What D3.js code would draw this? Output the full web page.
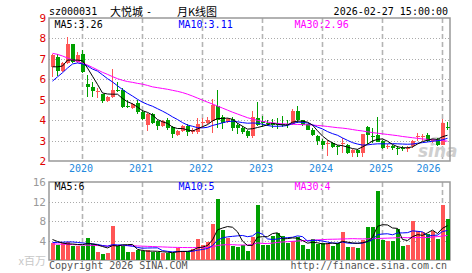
<!DOCTYPE html>
<meta charset="utf-8">
<style>
  body {
      margin: 0;
      padding: 0;
      background: #fff;
  }
  svg text {
      font-family: 'DejaVu Sans Mono', monospace;
      font-size: 10px;
  }
  .cjk {
      font-family: 'Noto Sans CJK SC', sans-serif !important;
      font-size: 11px !important;
  }
</style>
<body>
<div id="chart"></div>
<script src="https://cdn.jsdelivr.net/npm/d3@7/dist/d3.min.js"></script>
<script>
// monthly K line, sz000031, 2019-07 .. 2026-02
var months = [
    "2019-07", "2019-08", "2019-09", "2019-10", "2019-11", "2019-12",
    "2020-01", "2020-02", "2020-03", "2020-04", "2020-05", "2020-06", "2020-07", "2020-08", "2020-09", "2020-10", "2020-11", "2020-12",
    "2021-01", "2021-02", "2021-03", "2021-04", "2021-05", "2021-06", "2021-07", "2021-08", "2021-09", "2021-10", "2021-11", "2021-12",
    "2022-01", "2022-02", "2022-03", "2022-04", "2022-05", "2022-06", "2022-07", "2022-08", "2022-09", "2022-10", "2022-11", "2022-12",
    "2023-01", "2023-02", "2023-03", "2023-04", "2023-05", "2023-06", "2023-07", "2023-08", "2023-09", "2023-10", "2023-11", "2023-12",
    "2024-01", "2024-02", "2024-03", "2024-04", "2024-05", "2024-06", "2024-07", "2024-08", "2024-09", "2024-10", "2024-11", "2024-12",
    "2025-01", "2025-02", "2025-03", "2025-04", "2025-05", "2025-06", "2025-07", "2025-08", "2025-09", "2025-10", "2025-11", "2025-12",
    "2026-01", "2026-02"
];

var open = [6.58, 7.1, 6.42, 6.78, 7.72, 6.86, 7.23, 5.75, 5.63, 5.4, 5.28, 4.95, 5.15, 5.5, 5.5, 4.7, 4.6, 4.85,
    4.4, 3.75, 4.3, 3.95, 3.7, 4.03, 3.66, 3.25, 3.46, 3.7, 3.43, 3.41,
    3.87, 3.84, 3.95, 4.69, 4.16, 3.9, 4.06, 3.74, 3.62, 3.46, 3.2, 4.1,
    3.94, 3.86, 3.86, 3.83, 3.8, 3.8, 3.81, 4.47, 3.99, 3.8, 3.53, 3.23,
    3.0, 2.81, 2.9, 2.72, 2.83, 2.79, 2.38, 2.55, 2.4, 3.65, 3.2, 3.25,
    2.98, 2.7, 2.72, 2.65, 2.66, 2.62, 2.72, 3.18, 3.2, 3.25, 3.0, 3.08,
    2.8, 3.65];
var close = [7.18, 6.42, 6.78, 7.72, 6.86, 7.18, 6.37, 5.63, 5.44, 5.44, 4.95, 5.15, 5.5, 5.45, 4.65, 4.62, 4.8, 4.4,
    4.05, 4.3, 3.84, 3.7, 3.98, 3.62, 3.3, 3.46, 3.7, 3.41, 3.51, 3.79,
    3.9, 4.0, 4.72, 4.03, 3.84, 4.06, 3.62, 3.62, 3.41, 3.21, 4.15, 3.78,
    3.86, 3.8, 3.76, 3.78, 3.76, 3.75, 4.47, 3.99, 3.78, 3.53, 3.28, 2.99,
    2.79, 2.86, 2.7, 2.68, 2.88, 2.38, 2.52, 2.38, 3.3, 3.28, 3.18, 2.95,
    2.65, 2.72, 2.62, 2.62, 2.63, 2.65, 2.98, 3.2, 3.24, 2.97, 3.05, 2.8,
    3.85, 3.6];
var high = [7.22, 7.23, 6.86, 8.08, 7.75, 7.34, 7.43, 6.2, 5.88, 5.55, 5.3, 5.2, 6.48, 5.85, 5.55, 4.98, 4.85, 5.0,
    4.5, 4.35, 4.35, 4.03, 4.03, 4.11, 3.7, 3.51, 3.75, 3.79, 3.62, 4.11,
    4.11, 4.16, 5.05, 5.48, 4.23, 4.11, 4.16, 3.87, 3.7, 3.54, 4.43, 4.88,
    4.19, 4.02, 4.05, 4.1, 4.19, 4.02, 4.55, 4.68, 4.02, 3.83, 3.61, 3.28,
    3.07, 3.03, 2.95, 2.79, 3.12, 2.84, 2.6, 2.6, 3.3, 3.7, 3.6, 4.15,
    3.05, 2.83, 2.78, 2.72, 2.73, 2.72, 3.05, 3.38, 3.33, 3.38, 3.1, 3.15,
    4.05, 3.9];
var low = [6.12, 6.16, 6.37, 6.75, 6.8, 6.8, 6.29, 5.15, 5.15, 5.06, 4.85, 4.9, 5.1, 5.4, 4.6, 4.58, 4.55, 4.28,
    4.0, 3.45, 3.79, 3.54, 3.66, 3.54, 3.13, 3.21, 3.42, 3.2, 3.34, 3.34,
    3.62, 3.79, 3.38, 3.62, 3.57, 3.84, 3.46, 3.34, 3.34, 3.13, 3.12, 3.69,
    3.66, 3.69, 3.6, 3.56, 3.66, 3.6, 3.78, 3.86, 3.73, 3.5, 3.2, 2.79,
    2.57, 2.24, 2.62, 2.29, 2.38, 2.34, 2.2, 2.2, 2.2, 2.85, 2.9, 2.93,
    2.6, 2.6, 2.55, 2.3, 2.5, 2.45, 2.62, 2.97, 2.97, 2.93, 2.9, 2.75,
    2.8, 3.5];

var ma5 = [6.61, 6.61, 6.65, 6.94, 6.94, 6.94, 6.91, 6.55, 6.15, 5.75, 5.33, 5.28, 5.27, 5.27, 5.06, 4.9, 4.8, 4.64,
    4.46, 4.38, 4.25, 4.03, 3.92, 3.84, 3.66, 3.59, 3.59, 3.52, 3.47, 3.57,
    3.68, 3.78, 3.96, 4.08, 4.08, 4.1, 4.04, 3.85, 3.7, 3.56, 3.58, 3.64,
    3.7, 3.77, 3.84, 3.8, 3.77, 3.76, 3.9, 3.95, 3.95, 3.9, 3.76, 3.48,
    3.22, 3.03, 2.88, 2.78, 2.75, 2.68, 2.61, 2.57, 2.69, 2.82, 2.98, 3.06,
    3.08, 2.97, 2.81, 2.7, 2.65, 2.65, 2.69, 2.83, 2.95, 3.02, 3.08, 3.06,
    3.19, 3.26];
var ma10 = [5.91, 6.12, 6.32, 6.55, 6.75, 6.8, 6.75, 6.65, 6.5, 6.4, 6.22, 6.03, 5.87, 5.68, 5.5, 5.33, 5.18, 5.02,
    4.88, 4.77, 4.68, 4.56, 4.44, 4.31, 4.16, 4.03, 3.88, 3.76, 3.7, 3.63,
    3.62, 3.65, 3.74, 3.8, 3.87, 3.93, 3.95, 3.92, 3.88, 3.85, 3.86, 3.85,
    3.8, 3.74, 3.7, 3.7, 3.71, 3.74, 3.83, 3.9, 3.89, 3.86, 3.77, 3.66,
    3.57, 3.44, 3.34, 3.26, 3.13, 3.01, 2.9, 2.83, 2.78, 2.79, 2.82, 2.84,
    2.84, 2.84, 2.85, 2.84, 2.83, 2.82, 2.83, 2.87, 2.9, 2.93, 2.97, 2.99,
    3.04, 3.11];
var ma30 = [7.27, 7.22, 7.14, 7.04, 6.95, 6.87, 6.79, 6.7, 6.58, 6.46, 6.34, 6.24, 6.13, 6.03, 5.95, 5.89, 5.85, 5.8,
    5.76, 5.7, 5.63, 5.59, 5.55, 5.51, 5.46, 5.41, 5.35, 5.27, 5.18, 5.08,
    4.98, 4.88, 4.79, 4.69, 4.59, 4.49, 4.39, 4.3, 4.21, 4.12, 4.05, 3.99,
    3.94, 3.9, 3.87, 3.84, 3.82, 3.81, 3.8, 3.79, 3.78, 3.77, 3.76, 3.74,
    3.72, 3.69, 3.66, 3.63, 3.61, 3.58, 3.54, 3.5, 3.47, 3.43, 3.39, 3.36,
    3.33, 3.3, 3.27, 3.24, 3.2, 3.17, 3.14, 3.11, 3.08, 3.06, 3.04, 3.02,
    3.0, 2.97];

// volume, x 百万
var volume = [3.46, 3.12, 3.46, 3.6, 2.78, 2.92, 2.92, 4.6, 3.32, 1.7, 1.29, 1.49, 6.98, 2.92, 2.78, 1.56, 1.7, 1.97,
    1.76, 2.1, 1.56, 1.56, 1.42, 1.42, 1.5, 2.5, 1.9, 1.6, 2.3, 4.3,
    3.1, 3.6, 7.3, 12.6, 6.2, 4.6, 2.9, 2.6, 3.1, 1.76, 4.7, 11.25,
    3.1, 3.1, 4.95, 5.5, 4.95, 3.46, 3.8, 4.68, 3.12, 2.24, 4.27, 3.32,
    3.46, 3.46, 2.92, 3.46, 5.83, 2.64, 2.64, 2.5, 4.2, 6.87, 6.87, 14.1,
    4.15, 3.95, 3.8, 6.4, 2.8, 3.0, 7.9, 5.85, 5.75, 5.3, 5.85, 4.35,
    11.3, 8.4];
var vma5 = [4.2, 3.8, 3.5, 3.3, 3.28, 3.18, 3.14, 3.36, 3.31, 3.09, 2.77, 2.48, 2.96, 2.88, 3.09, 3.15, 3.19, 2.19,
    1.95, 1.82, 1.82, 1.79, 1.68, 1.61, 1.5, 1.68, 1.75, 1.78, 1.96, 2.52,
    2.64, 2.98, 4.12, 6.18, 6.56, 6.86, 6.72, 5.78, 3.88, 2.99, 3.01, 4.68,
    4.78, 4.78, 5.42, 5.58, 4.32, 4.39, 4.53, 4.48, 4.0, 3.46, 3.62, 3.53,
    3.28, 3.35, 3.49, 3.32, 3.82, 3.66, 3.5, 3.41, 3.56, 3.77, 4.62, 6.91,
    7.24, 7.19, 6.57, 6.48, 4.22, 3.99, 4.78, 5.19, 5.06, 5.56, 6.13, 5.42,
    6.51, 7.04];
var vma10 = [3.6, 3.6, 3.65, 3.7, 3.7, 3.6, 3.5, 3.4, 3.3, 3.19, 2.97, 2.81, 3.16, 3.09, 3.09, 2.96, 2.83, 2.57,
    2.42, 2.46, 2.48, 2.49, 1.93, 1.78, 1.66, 1.75, 1.77, 1.73, 1.79, 2.01,
    2.16, 2.36, 2.95, 4.07, 4.54, 4.75, 4.85, 4.95, 5.03, 4.78, 4.94, 5.7,
    5.28, 4.33, 4.21, 4.3, 4.5, 4.59, 4.66, 4.95, 4.79, 3.89, 4.01, 4.03,
    3.88, 3.68, 3.47, 3.47, 3.68, 3.47, 3.42, 3.45, 3.44, 3.8, 4.14, 5.2,
    5.33, 5.38, 5.17, 5.55, 5.56, 5.61, 5.98, 5.88, 5.77, 4.89, 5.06, 5.1,
    5.85, 6.05];
var vma30 = [3.3, 3.27, 3.24, 3.2, 3.16, 3.12, 3.08, 3.04, 3.0, 2.96, 2.92, 2.88, 3.0, 2.98, 2.96, 2.94, 2.92, 2.88,
    2.84, 2.8, 2.76, 2.72, 2.68, 2.64, 2.6, 2.58, 2.56, 2.55, 2.55, 2.55,
    2.54, 2.55, 2.68, 2.98, 3.1, 3.15, 3.15, 3.08, 3.08, 3.08, 3.19, 3.52,
    3.39, 3.39, 3.47, 3.6, 3.7, 3.76, 3.83, 3.9, 3.96, 4.0, 4.07, 4.12,
    4.18, 4.24, 4.26, 4.28, 4.32, 4.35, 4.38, 4.35, 4.33, 4.35, 4.38, 4.4,
    4.45, 4.48, 4.52, 4.57, 4.6, 4.57, 4.6, 4.6, 4.6, 4.6, 4.7, 4.8,
    4.92, 5.03];

var priceTicks = [2, 3, 4, 5, 6, 7, 8, 9];
var volTicks = [4, 8, 12, 16];
var yearMonths = ["2020-01", "2021-01", "2022-01", "2023-01", "2024-01", "2025-01", "2026-01"];
var yearLabels = ["2020", "2021", "2022", "2023", "2024", "2025", "2026"];

var width = 472,
    height = 273,
    left = 49,
    right = 450,
    pTop = 18,
    pBottom = 161,
    vTop = 182,
    vBottom = 260;

var red = "#ff5555",
    green = "#00a000",
    gridColor = "#aaa",
    frameColor = "#999";

var svg = d3.select("#chart").append("svg")
    .attr("width", width)
    .attr("height", height);

svg.append("rect")
    .attr("width", width)
    .attr("height", height)
    .attr("fill", "#fff");

var x = d3.scaleBand()
    .domain(months)
    .range([50, 450]);

var y = d3.scaleLinear()
    .domain([2, 9])
    .range([pBottom, pTop]);

var yv = d3.scaleLinear()
    .domain([0, 16])
    .range([vBottom, vTop]);

function cx(m) {
    return x(m) + x.bandwidth() / 2;
}

// grid
svg.selectAll(".hgrid")
    .data(priceTicks.filter(function(d) { return d > 2 && d < 9; }))
    .enter().append("line")
    .attr("x1", left).attr("x2", right)
    .attr("y1", function(d) { return Math.round(y(d)) + 0.5; })
    .attr("y2", function(d) { return Math.round(y(d)) + 0.5; })
    .attr("stroke", gridColor)
    .attr("stroke-dasharray", "1,2");

svg.selectAll(".vhgrid")
    .data(volTicks.filter(function(d) { return d < 16; }))
    .enter().append("line")
    .attr("x1", left).attr("x2", right)
    .attr("y1", function(d) { return Math.round(yv(d)) + 0.5; })
    .attr("y2", function(d) { return Math.round(yv(d)) + 0.5; })
    .attr("stroke", gridColor)
    .attr("stroke-dasharray", "1,2");

[[pTop, pBottom], [vTop, vBottom]].forEach(function(r) {
    svg.selectAll(null)
        .data(yearMonths)
        .enter().append("line")
        .attr("x1", function(d) { return cx(d); })
        .attr("x2", function(d) { return cx(d); })
        .attr("y1", r[0]).attr("y2", r[1])
        .attr("stroke", "#b4b4b4")
        .attr("stroke-width", 1.6)
        .attr("stroke-dasharray", "5,3");
});

// sina watermark
var wm = svg.append("g").attr("fill", "#cfcfcf");
wm.append("ellipse")
    .attr("cx", 436).attr("cy", 141).attr("rx", 6).attr("ry", 3.5)
    .attr("fill", "none").attr("stroke", "#dcdcdc").attr("stroke-width", 1.5);
wm.append("circle").attr("cx", 436).attr("cy", 141).attr("r", 1.6).attr("fill", "#e3b0b0");
wm.append("text")
    .attr("x", 418).attr("y", 157)
    .style("font-family", "'DejaVu Sans', sans-serif")
    .style("font-size", "17px")
    .style("font-weight", "bold")
    .style("font-style", "italic")
    .text("sina");

// frames
svg.append("rect")
    .attr("x", left).attr("y", pTop)
    .attr("width", right - left).attr("height", pBottom - pTop)
    .attr("fill", "none").attr("stroke", frameColor).attr("stroke-width", 1.5);
svg.append("rect")
    .attr("x", left).attr("y", vTop)
    .attr("width", right - left).attr("height", vBottom - vTop)
    .attr("fill", "none").attr("stroke", frameColor).attr("stroke-width", 1.5);

// candles
var candles = svg.selectAll(".candle")
    .data(months)
    .enter().append("g")
    .attr("class", "candle")
    .attr("fill", function(d, i) { return close[i] >= open[i] ? red : green; })
    .attr("shape-rendering", "crispEdges");

candles.append("rect")
    .attr("x", function(d) { return cx(d) - 0.5; })
    .attr("width", 1)
    .attr("y", function(d, i) { return y(high[i]); })
    .attr("height", function(d, i) { return Math.max(1, y(low[i]) - y(high[i])); });

candles.append("rect")
    .attr("x", function(d) { return x(d) + 0.5; })
    .attr("width", 4)
    .attr("y", function(d, i) { return y(Math.max(open[i], close[i])); })
    .attr("height", function(d, i) { return Math.max(1, Math.abs(y(open[i]) - y(close[i]))); });

// volume bars
svg.selectAll(".vbar")
    .data(months)
    .enter().append("rect")
    .attr("class", "vbar")
    .attr("shape-rendering", "crispEdges")
    .attr("fill", function(d, i) { return close[i] >= open[i] ? red : green; })
    .attr("x", function(d) { return x(d) + 0.5; })
    .attr("width", 4)
    .attr("y", function(d, i) { return yv(volume[i]); })
    .attr("height", function(d, i) { return vBottom - yv(volume[i]); });

// moving averages
function drawLine(values, scale, color) {
    var line = d3.line()
        .x(function(d, i) { return cx(months[i]); })
        .y(function(d) { return scale(d); });
    svg.append("path")
        .datum(values)
        .attr("d", line)
        .attr("fill", "none")
        .attr("stroke", color)
        .attr("stroke-width", 1);
}

drawLine(ma30, y, "#ff00ff");
drawLine(ma10, y, "#0000ff");
drawLine(ma5, y, "#000");
drawLine(vma30, yv, "#ff00ff");
drawLine(vma10, yv, "#0000ff");
drawLine(vma5, yv, "#000");

// axes
var pAxis = svg.append("g")
    .attr("transform", "translate(" + left + ",0)")
    .call(d3.axisLeft(y).tickValues(priceTicks).tickSize(0).tickPadding(3)
        .tickFormat(d3.format("d")));
pAxis.select(".domain").remove();
pAxis.selectAll("text")
    .attr("fill", "#e00000")
    .style("font-size", "11px");

var vAxis = svg.append("g")
    .attr("transform", "translate(" + left + ",0)")
    .call(d3.axisLeft(yv).tickValues(volTicks).tickSize(0).tickPadding(3)
        .tickFormat(d3.format("d")));
vAxis.select(".domain").remove();
vAxis.selectAll("text")
    .attr("fill", "#999")
    .style("font-size", "11px");

var xAxis = svg.append("g")
    .attr("transform", "translate(0," + pBottom + ")")
    .call(d3.axisBottom(x).tickValues(yearMonths).tickSize(0).tickPadding(4)
        .tickFormat(function(d, i) { return yearLabels[i]; }));
xAxis.select(".domain").remove();
xAxis.selectAll("text")
    .attr("fill", "#2288dd")
    .attr("dx", function(d) { return cx(d) + 14 > right - 8 ? -14 : -1.5; });

// titles
svg.append("text").attr("x", 49).attr("y", 15).text("sz000031");
svg.append("text").attr("class", "cjk").attr("x", 110).attr("y", 15.5).text("大悦城");
svg.append("text").attr("x", 146).attr("y", 15).text("-");
svg.append("text").attr("class", "cjk").attr("x", 177).attr("y", 15.5).text("月K线图");
svg.append("text").attr("x", 448).attr("y", 15).attr("text-anchor", "end").text("2026-02-27 15:00:00");

var legends = [
    ["MA5:3.26", 54.5, 27.5, "#000"],
    ["MA10:3.11", 178.5, 27.5, "#0000ff"],
    ["MA30:2.96", 294.5, 27.5, "#ff00ff"],
    ["MA5:6", 54.5, 189.5, "#000"],
    ["MA10:5", 178.5, 189.5, "#0000ff"],
    ["MA30:4", 294.5, 189.5, "#ff00ff"]
];
svg.selectAll(".legend")
    .data(legends)
    .enter().append("text")
    .attr("x", function(d) { return d[1]; })
    .attr("y", function(d) { return d[2]; })
    .attr("fill", function(d) { return d[3]; })
    .text(function(d) { return d[0]; });

svg.append("text")
    .attr("class", "cjk")
    .attr("x", 46).attr("y", 265)
    .attr("text-anchor", "end")
    .attr("fill", "#c8c8c8")
    .text("x百万");

svg.append("text").attr("x", 49).attr("y", 269).attr("fill", "#555").text("Copyright 2026 SINA.COM");
svg.append("text").attr("x", 447).attr("y", 269).attr("text-anchor", "end").attr("fill", "#555").text("http://finance.sina.com.cn");
</script>
</body>
